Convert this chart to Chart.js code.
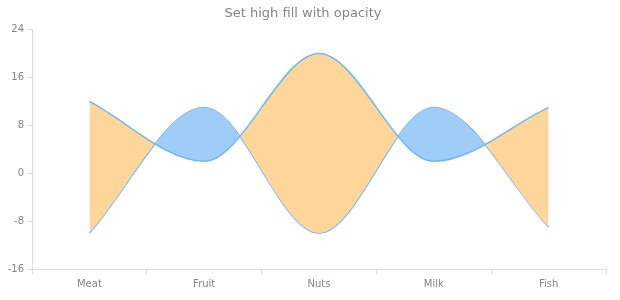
<!DOCTYPE html>
<html>
<head>
<meta charset="utf-8">
<script src="https://cdn.jsdelivr.net/npm/chart.js@4/dist/chart.umd.min.js"></script>
<style>
  html, body { margin: 0; padding: 0; background: #fff; }
  #wrap { width: 620px; height: 300px; }
</style>
</head>
<body>
<div id="wrap"><canvas id="chart"></canvas></div>
<script>
const categories = ['Meat', 'Fruit', 'Nuts', 'Milk', 'Fish'];
const highValues = [12, 2, 20, 2, 11];
const lowValues = [-10, 11, -10, 11, -9];
const yTicks = [-16, -8, 0, 8, 16, 24];

const textColor = '#7c868e';
const axisColor = '#dcdcdc';

const ctx = document.getElementById('chart').getContext('2d');
new Chart(ctx, {
  type: 'line',
  data: {
    labels: categories,
    datasets: [
      {
        label: 'High',
        data: highValues,
        borderColor: '#6fb6f2',
        borderWidth: 1.5,
        pointRadius: 0,
        cubicInterpolationMode: 'monotone',
        fill: { target: 1, above: '#ffd699', below: '#a0cdf8' }
      },
      {
        label: 'Low',
        data: lowValues,
        borderColor: '#6fb6f2',
        borderWidth: 1.5,
        pointRadius: 0,
        cubicInterpolationMode: 'monotone',
        fill: false
      }
    ]
  },
  options: {
    responsive: true,
    maintainAspectRatio: false,
    animation: false,
    layout: { padding: { right: 14, left: 0, bottom: 0 } },
    plugins: {
      legend: { display: false },
      tooltip: { enabled: false },
      title: {
        display: true,
        text: 'Set high fill with opacity',
        color: textColor,
        font: { family: 'DejaVu Sans', size: 13, weight: 'normal' },
        padding: { top: 6, bottom: 8 }
      }
    },
    scales: {
      x: {
        offset: true,
        grid: { offset: true, drawOnChartArea: false, drawTicks: true, tickLength: 5, color: axisColor },
        border: { color: axisColor },
        ticks: { color: textColor, font: { family: 'DejaVu Sans', size: 10 }, padding: 4 },
        afterFit: s => { s.height = 31; }
      },
      y: {
        min: yTicks[0],
        max: yTicks[yTicks.length - 1],
        afterBuildTicks: s => { s.ticks = yTicks.map(v => ({ value: v })); },
        grid: { drawOnChartArea: false, drawTicks: true, tickLength: 5, color: axisColor },
        border: { color: axisColor },
        ticks: { color: textColor, font: { family: 'DejaVu Sans', size: 10 }, padding: 3 },
        afterFit: s => { s.width = 32; }
      }
    }
  }
});
</script>
</body>
</html>
